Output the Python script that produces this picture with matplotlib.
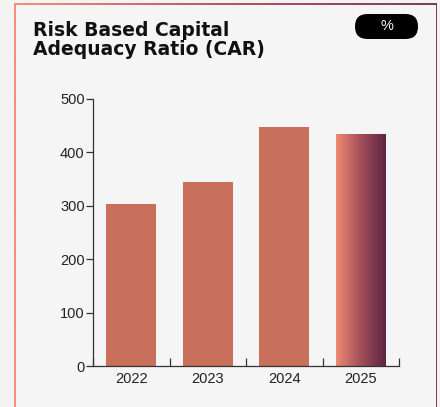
import numpy as np
import matplotlib
matplotlib.use("Agg")
import matplotlib.pyplot as plt
from matplotlib.colors import LinearSegmentedColormap
from matplotlib.patches import FancyBboxPatch

# Data
years = ["2022", "2023", "2024", "2025"]
car_values = [303, 345, 448, 433]
y_ticks = [0, 100, 200, 300, 400, 500]

W, H = 440, 407
fig = plt.figure(figsize=(W / 100, H / 100), dpi=100)
fig.patch.set_facecolor("#f3f3f3")

# Card border with a salmon-to-plum gradient
border_cmap = LinearSegmentedColormap.from_list("border", ["#f4907c", "#b85560", "#7a3d5c"])
bg = fig.add_axes([0, 0, 1, 1], zorder=0)
bg.set_xlim(0, W)
bg.set_ylim(H, 0)
bg.axis("off")
grad = np.linspace(0, 1, 256).reshape(1, -1)
left, top, right = 14, 3, 437
bg.imshow(grad, cmap=border_cmap, extent=[left, right, H + 2, top],
          aspect="auto", zorder=0)
bg.add_patch(plt.Rectangle((left + 1.5, top + 1.5), right - left - 3, H, facecolor="#f5f5f5",
                           edgecolor="none", zorder=1))

# Title
fig.text(33 / W, 1 - 21 / H, "Risk Based Capital\nAdequacy Ratio (CAR)", ha="left", va="top",
         fontsize=13.5, fontweight="bold", family="DejaVu Sans", color="#111111", linespacing=1.0)

# Unit badge
badge = FancyBboxPatch((355, 14), 63, 25, boxstyle="round,pad=0,rounding_size=12.5",
                       facecolor="black", edgecolor="none", zorder=3)
bg.add_patch(badge)
bg.text(386.5, 26.5, "%", color="white", ha="center", va="center", fontsize=10.5,
        family="Liberation Sans", zorder=4)

# Chart axes
ax = fig.add_axes([93 / W, 1 - 366 / H, (399 - 93) / W, (366 - 99) / H], zorder=2)
ax.patch.set_alpha(0)
x = np.arange(len(years))
bar_w = 0.65
solid = "#c8705c"
for i in range(len(years) - 1):
    ax.bar(x[i], car_values[i], width=bar_w, color=solid, zorder=2)

# Last bar filled with a horizontal gradient
bar_cmap = LinearSegmentedColormap.from_list("bar", ["#ef8a72", "#a24e5a", "#5e2441"])
last = len(years) - 1
ax.imshow(grad, cmap=bar_cmap, aspect="auto", zorder=2,
          extent=[x[last] - bar_w / 2, x[last] + bar_w / 2, 0, car_values[last]])

ax.set_xlim(-0.5, len(years) - 0.5)
ax.set_ylim(0, 500)
ax.set_yticks(y_ticks)
ax.set_yticklabels([str(t) for t in y_ticks], family="Liberation Sans", fontsize=10.5, color="#222222")
ax.set_xticks(x)
ax.set_xticklabels(years, family="Liberation Sans", fontsize=10.5, color="#222222")
ax.tick_params(axis="x", length=0, pad=4)
ax.tick_params(axis="y", length=5, width=0.9, color="#333333", pad=1)
# Category separators on the x axis
ax.set_xticks(np.arange(len(years) + 1) - 0.5, minor=True)
ax.tick_params(axis="x", which="minor", direction="in", length=6, width=0.9, color="#333333")
for s in ["top", "right"]:
    ax.spines[s].set_visible(False)
for s in ["left", "bottom"]:
    ax.spines[s].set_color("#333333")
    ax.spines[s].set_linewidth(0.9)

fig.savefig("out.png", dpi=100, facecolor=fig.get_facecolor())
